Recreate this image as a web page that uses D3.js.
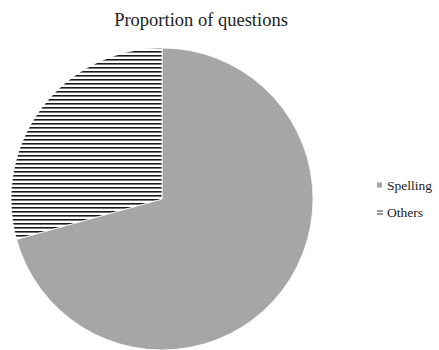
<!DOCTYPE html>
<html>
<head>
<meta charset="utf-8">
<script src="https://cdn.jsdelivr.net/npm/d3@7"></script>
<style>
  body { margin: 0; background: #fff; }
  svg { display: block; }
</style>
</head>
<body>
<svg id="chart" width="439" height="350"></svg>
<script>
const categories = ['Spelling', 'Others'];
const values = [70.7, 29.3];
const title = 'Proportion of questions';

const svg = d3.select('#chart');
const cx = 162, cy = 199, r = 151;

// narrow horizontal stripes for "Others"
const defs = svg.append('defs');
const pat = defs.append('pattern')
    .attr('id', 'hstripe')
    .attr('patternUnits', 'userSpaceOnUse')
    .attr('width', 8)
    .attr('height', 4);
pat.append('rect').attr('width', 8).attr('height', 4).attr('fill', '#fff');
pat.append('rect').attr('y', 0).attr('width', 8).attr('height', 1.6).attr('fill', '#1a1a1a');

const fills = d3.scaleOrdinal()
    .domain(categories)
    .range(['#a6a6a6', 'url(#hstripe)']);

const pie = d3.pie().sort(null).value(d => d.value);
const arc = d3.arc().innerRadius(0).outerRadius(r);

const data = categories.map((c, i) => ({ name: c, value: values[i] }));

svg.append('g')
    .attr('transform', `translate(${cx},${cy})`)
    .selectAll('path')
    .data(pie(data))
    .join('path')
    .attr('d', arc)
    .attr('fill', d => fills(d.data.name))
    .attr('stroke', '#fff')
    .attr('stroke-width', 0.75);

svg.append('text')
    .attr('x', 201)
    .attr('y', 26)
    .attr('text-anchor', 'middle')
    .style('font-family', '"Liberation Serif", serif')
    .style('font-size', '18.5px')
    .attr('fill', '#222')
    .text(title);

const legend = svg.append('g')
    .selectAll('g')
    .data(categories)
    .join('g')
    .attr('transform', (d, i) => `translate(377,${185 + i * 27.5})`);

legend.append('rect')
    .attr('x', 0)
    .attr('y', -2.5)
    .attr('width', 5)
    .attr('height', 5)
    .attr('fill', d => d === 'Others' ? '#fff' : fills(d));

legend.filter(d => d === 'Others')
    .selectAll('line')
    .data([-1.5, 1.5])
    .join('line')
    .attr('x1', 0).attr('x2', 6)
    .attr('y1', d => d).attr('y2', d => d)
    .attr('stroke', '#333')
    .attr('stroke-width', 1);

legend.append('text')
    .attr('x', 10)
    .attr('dy', '0.35em')
    .style('font-family', '"Liberation Serif", serif')
    .style('font-size', '13.5px')
    .attr('fill', '#222')
    .text(d => d);
</script>
</body>
</html>
